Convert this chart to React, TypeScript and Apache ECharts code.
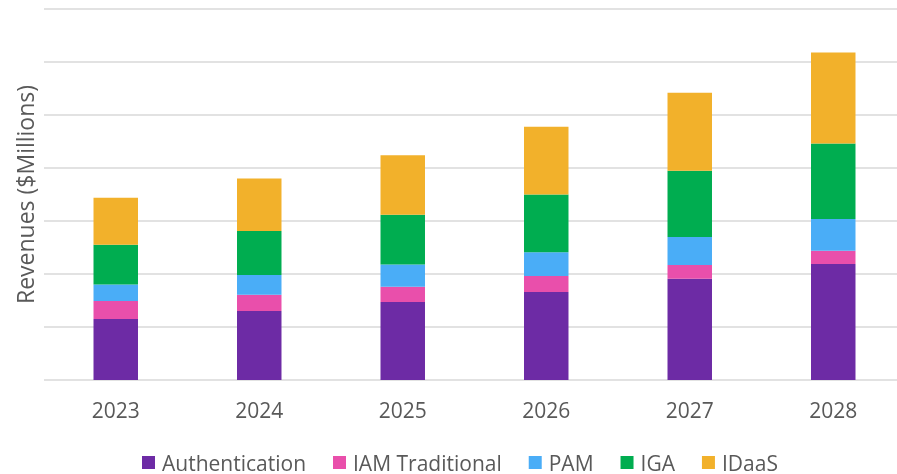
import React, { useEffect, useRef } from "react";
import * as echarts from "echarts";

const years = ["2023", "2024", "2025", "2026", "2027", "2028"];
const authentication = [115, 130, 147, 166, 191, 219];
const iamTraditional = [34, 31, 29, 30, 26, 25];
const pam = [31, 37, 42, 45, 53, 60];
const iga = [75, 83, 94, 109, 125, 142];
const idaas = [89, 99, 112, 128, 147, 172];

const seriesDefs = [
  { name: "Authentication", data: authentication, color: "#6D2BA5" },
  { name: "IAM Traditional", data: iamTraditional, color: "#E94FAB" },
  { name: "PAM", data: pam, color: "#4AADF7" },
  { name: "IGA", data: iga, color: "#00AD50" },
  { name: "IDaaS", data: idaas, color: "#F2B12B" },
];

const FONT = "'Open Sans', sans-serif";

export default function App() {
  const ref = useRef<HTMLDivElement>(null);
  useEffect(() => {
    if (!ref.current) return;
    const chart = echarts.init(ref.current, undefined, { renderer: "svg" });
    chart.setOption({
      animation: false,
      textStyle: { fontFamily: FONT },
      grid: { left: 44, width: 861, top: 9, height: 371, outerBoundsMode: "none", containLabel: false },
      legend: {
        left: 137,
        top: 447,
        itemWidth: 13,
        itemHeight: 13,
        itemGap: 27,
        icon: "rect",
        textStyle: { fontFamily: FONT, fontSize: 21, color: "#595959", padding: [0, 0, 0, 2] },
        data: seriesDefs.map((s) => s.name),
      },
      xAxis: {
        type: "category",
        data: years,
        axisLine: { show: false },
        axisTick: { show: false },
        axisLabel: { fontFamily: FONT, fontSize: 21, color: "#595959", margin: 19 },
      },
      yAxis: {
        type: "value",
        min: 0,
        max: 700,
        interval: 100,
        name: "Revenues ($Millions)",
        nameLocation: "middle",
        nameGap: 8,
        nameTextStyle: { fontFamily: FONT, fontSize: 23, color: "#595959" },
        axisLabel: { show: false },
        axisLine: { show: false },
        axisTick: { show: false },
        splitLine: { lineStyle: { color: "#D9D9D9", width: 1.5 } },
      },
      series: seriesDefs.map((s) => ({
        name: s.name,
        type: "bar",
        stack: "total",
        data: s.data,
        barWidth: "31%",
        itemStyle: { color: s.color },
      })),
    });
    return () => chart.dispose();
  }, []);
  return (
    <div
      ref={ref}
      style={{ position: "fixed", left: 0, top: 0, width: 897, height: 474, overflow: "hidden" }}
    />
  );
}
